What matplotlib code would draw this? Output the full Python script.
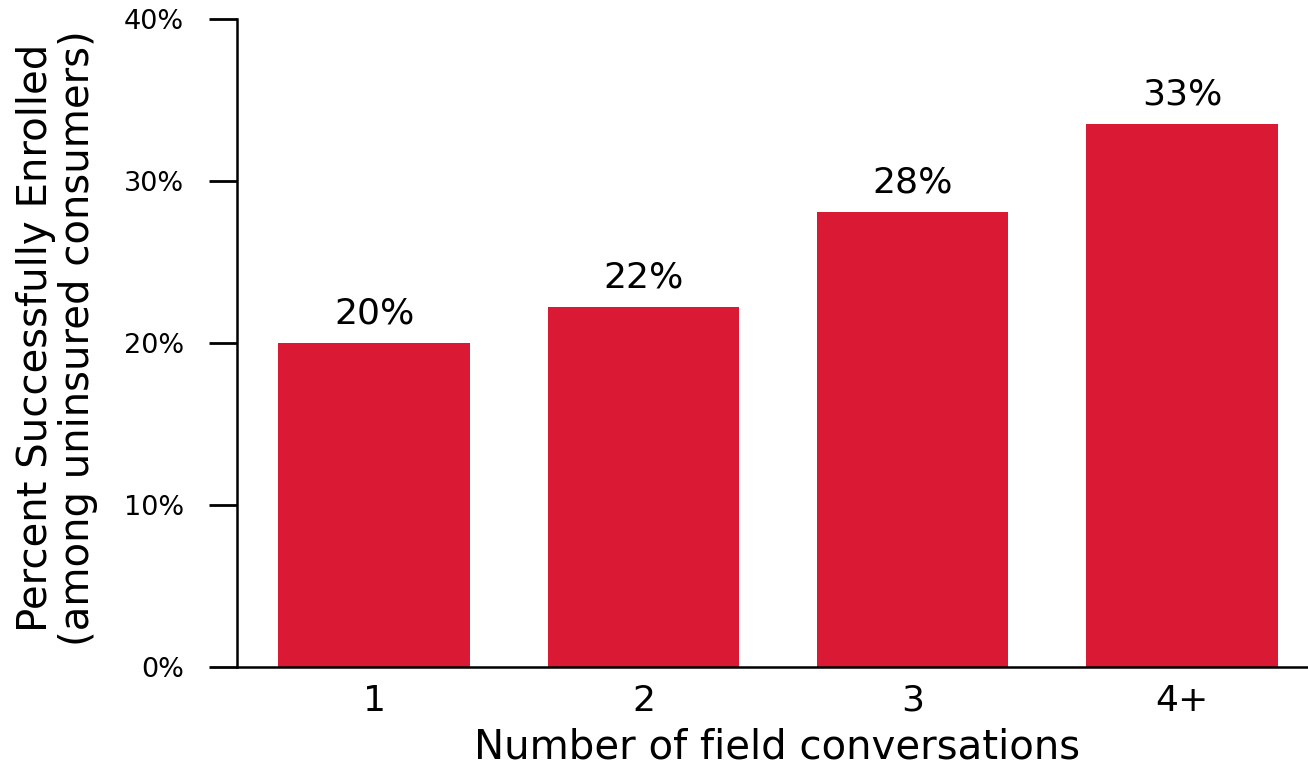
import matplotlib
matplotlib.use("Agg")
import matplotlib.pyplot as plt
from matplotlib.ticker import PercentFormatter

categories = ["1", "2", "3", "4+"]
enrolled_pct = [20.0, 22.2, 28.1, 33.5]
bar_labels = ["20%", "22%", "28%", "33%"]
y_ticks = [0, 10, 20, 30, 40]

def main():
    fig = plt.figure(figsize=(13.08, 7.68), dpi=100)
    ax = fig.add_axes([0.1812, 0.1315, 0.8188, 0.8438])

    x = range(len(categories))
    bars = ax.bar(x, enrolled_pct, width=0.71, color="#DA1A35")

    # value labels above each bar
    for b, lab in zip(bars, bar_labels):
        ax.annotate(lab, (b.get_x() + b.get_width() / 2, b.get_height()),
                    xytext=(0, 9), textcoords="offset points",
                    ha="center", va="bottom", fontsize=26)

    ax.set_xlim(-0.509, 3.468)
    ax.set_ylim(0, 40)
    ax.set_xticks(list(x))
    ax.set_xticklabels(categories, fontsize=26)
    ax.set_yticks(y_ticks)
    ax.yaxis.set_major_formatter(PercentFormatter(decimals=0))
    ax.tick_params(axis="y", labelsize=19.5, length=20, width=2, pad=18)
    ax.tick_params(axis="x", length=0, pad=12)

    ax.spines["top"].set_visible(False)
    ax.spines["right"].set_visible(False)
    ax.spines["left"].set_linewidth(1.8)
    ax.spines["bottom"].set_linewidth(1.8)

    ax.set_xlabel("Number of field conversations", fontsize=29, labelpad=7)
    ax.xaxis.label.set_x(0.504)
    fig.text(57 / 1308, 1 - 338 / 768,
             "Percent Successfully Enrolled\n(among uninsured consumers)",
             rotation=90, ha="center", va="center", fontsize=29,
             multialignment="center", linespacing=1.05)

    plt.savefig("out.png", dpi=100)
    plt.close()

if __name__ == "__main__":
    main()
